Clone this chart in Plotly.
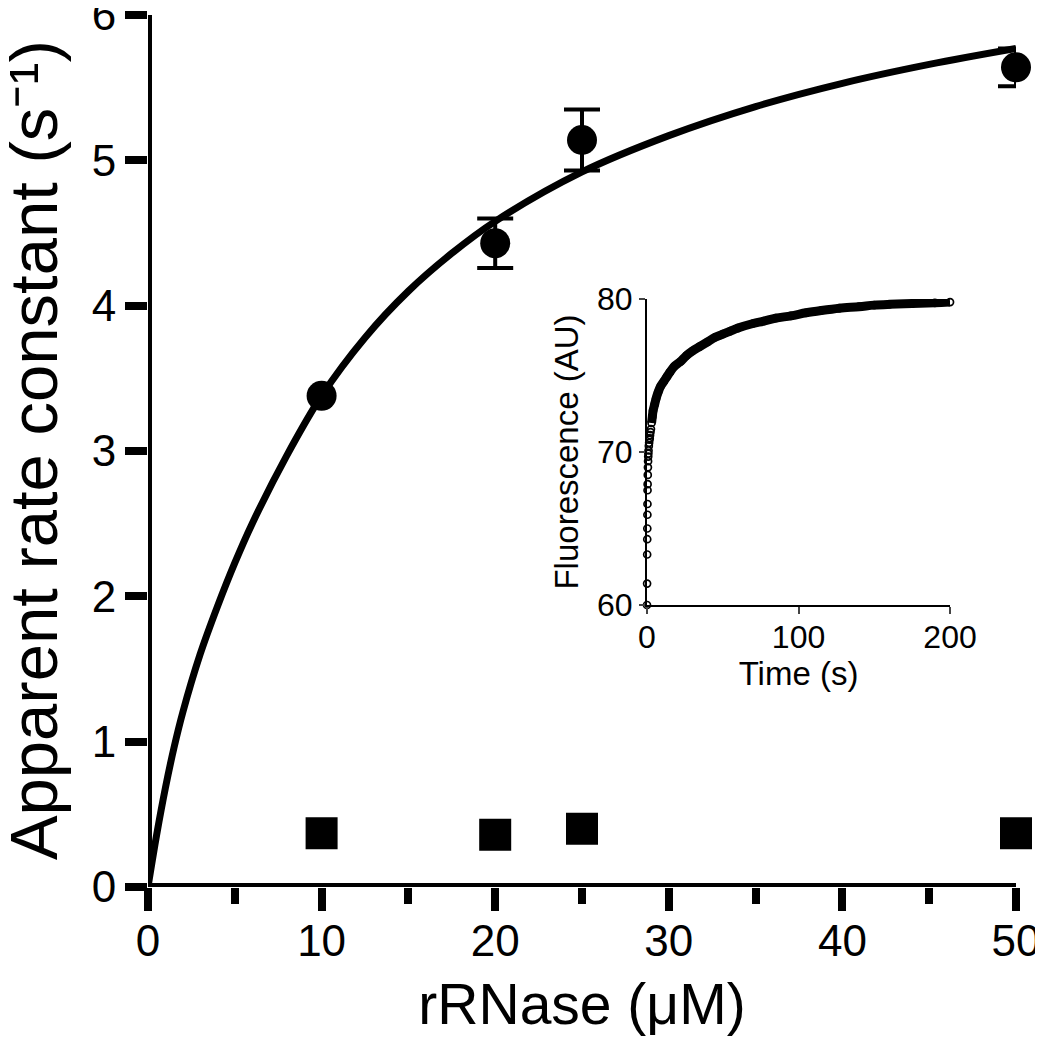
import plotly.graph_objects as go

# ---------------- data ----------------
conc = [10, 20, 25, 50]
k_wt = [3.38, 4.43, 5.14, 5.64]
k_wt_err = [0.0, 0.17, 0.21, 0.13]
k_mut = [0.37, 0.36, 0.40, 0.37]

fit_x = [0, 0.5, 1, 1.5, 2, 3, 4, 5, 6, 8, 10, 12.5, 15, 17.5, 20, 25, 30, 35, 40, 45, 50]
fit_y = [0, 0.36, 0.68, 0.96, 1.2, 1.6, 1.93, 2.23, 2.5, 2.97, 3.38, 3.78, 4.1, 4.36,
         4.58, 4.92, 5.17, 5.37, 5.53, 5.66, 5.77]

time_s = [0, 0.05, 0.1, 0.15, 0.2, 0.25, 0.3, 0.35, 0.4, 0.5, 0.6, 0.7, 0.8, 0.9, 1.0,
          1.2, 1.4, 1.6, 1.8, 2.0, 2.3, 2.6, 3.0, 3.5, 4.0, 5, 6, 7.3, 9, 11, 13, 15, 18,
          22, 26, 30, 35, 40, 45, 50, 55, 60, 70, 77, 85, 95, 105, 115, 127, 140, 150,
          160, 175, 190, 200]
fluor = [60.0, 61.4, 63.3, 64.3, 65.0, 65.9, 66.6, 67.5, 67.9, 68.5, 69.0, 69.4, 69.7,
         69.9, 70.1, 70.4, 70.6, 70.8, 70.9, 71.1, 71.3, 71.5, 71.9, 72.3, 72.7, 73.1,
         73.5, 73.9, 74.3, 74.6, 74.9, 75.2, 75.6, 75.9, 76.3, 76.6, 76.9, 77.2, 77.5,
         77.7, 77.9, 78.1, 78.4, 78.55, 78.75, 78.9, 79.1, 79.25, 79.4, 79.5, 79.6,
         79.65, 79.7, 79.75, 79.8]
band_start = 22  # index from which the dense band is drawn

x_ticks = [0, 10, 20, 30, 40, 50]
y_ticks = [0, 1, 2, 3, 4, 5, 6]
ins_x_ticks = [0, 100, 200]
ins_y_ticks = [60, 70, 80]

FONT = "Helvetica, Arial, Liberation Sans, sans-serif"

fig = go.Figure()

# fitted curve
fig.add_trace(go.Scatter(x=fit_x, y=fit_y, mode="lines",
                         line=dict(color="black", width=7, shape="spline"),
                         hoverinfo="skip", showlegend=False, cliponaxis=False))
# circles with error bars (points that have visible bars)
err_idx = [i for i, e in enumerate(k_wt_err) if e > 0]
fig.add_trace(go.Scatter(x=[conc[i] for i in err_idx], y=[k_wt[i] for i in err_idx],
                         mode="markers",
                         marker=dict(symbol="circle", size=30, color="black"),
                         error_y=dict(type="data", array=[k_wt_err[i] for i in err_idx],
                                      visible=True, color="black", thickness=4, width=18),
                         showlegend=False, cliponaxis=False))
# circles without visible bars
no_idx = [i for i, e in enumerate(k_wt_err) if e <= 0]
fig.add_trace(go.Scatter(x=[conc[i] for i in no_idx], y=[k_wt[i] for i in no_idx],
                         mode="markers",
                         marker=dict(symbol="circle", size=30, color="black"),
                         showlegend=False, cliponaxis=False))
# squares
fig.add_trace(go.Scatter(x=conc, y=k_mut, mode="markers",
                         marker=dict(symbol="square", size=32, color="black"),
                         showlegend=False, cliponaxis=False))

# inset: dense band + open circles
fig.add_trace(go.Scatter(x=time_s[band_start:], y=fluor[band_start:], mode="lines",
                         line=dict(color="black", width=9, shape="spline"),
                         xaxis="x2", yaxis="y2", showlegend=False, cliponaxis=False))
fig.add_trace(go.Scatter(x=time_s, y=fluor, mode="markers",
                         marker=dict(symbol="circle-open", size=7, color="black",
                                     line=dict(width=1.7, color="black")),
                         xaxis="x2", yaxis="y2", showlegend=False, cliponaxis=False))

# main axis lines as shapes centred on the data zero
fig.add_shape(type="line", xref="x", yref="y", x0=0, x1=50, y0=0, y1=0,
              line=dict(color="black", width=8), layer="below")
fig.add_shape(type="line", xref="x", yref="y", x0=0, x1=0, y0=0, y1=6,
              line=dict(color="black", width=8), layer="below")

# y-axis title as a rotated annotation (free of margin constraints)
fig.add_annotation(text="Apparent rate constant (s⁻¹)", textangle=-90,
                   xref="paper", yref="paper", x=-0.1325, y=0.501,
                   xanchor="center", yanchor="middle", showarrow=False,
                   font=dict(size=67, family=FONT, color="black"))

# (page body adds an 8 px margin, so margins are offset by 8 px)
fig.update_layout(
    width=1043, height=1050,
    margin=dict(l=140, r=35, t=7, b=171, autoexpand=False),
    paper_bgcolor="white", plot_bgcolor="white",
    font=dict(family=FONT, color="black"),
    xaxis=dict(range=[0, 50], tickvals=x_ticks, ticks="outside", ticklen=23,
               tickwidth=8, tickcolor="black", showline=False, showgrid=False,
               zeroline=False, tickfont=dict(size=44), automargin=False,
               ticklabelstandoff=-8, ticklabeloverflow="allow",
               minor=dict(dtick=5, tick0=0, ticks="outside", ticklen=16,
                          tickwidth=8, tickcolor="black", showgrid=False),
               title=dict(text="rRNase (μM)", font=dict(size=57), standoff=20)),
    yaxis=dict(range=[0, 6], tickvals=y_ticks, ticks="outside", ticklen=22,
               tickwidth=8, tickcolor="black", showline=False, showgrid=False,
               zeroline=False, tickfont=dict(size=44), automargin=False,
               ticklabeloverflow="allow"),
    xaxis2=dict(domain=[0.5749, 0.9240], anchor="y2", range=[0, 200],
                tickvals=ins_x_ticks, ticks="outside", ticklen=7, tickwidth=2,
                showline=True, linewidth=2, linecolor="black", showgrid=False,
                zeroline=False, tickfont=dict(size=32), automargin=False,
                ticklabelstandoff=-4,
                title=dict(text="Time (s)", font=dict(size=33), standoff=2)),
    yaxis2=dict(domain=[0.3234, 0.6743], anchor="x2", range=[60, 80],
                tickvals=ins_y_ticks, ticks="outside", ticklen=6, tickwidth=2,
                showline=True, linewidth=2, linecolor="black", showgrid=False,
                zeroline=False, tickfont=dict(size=32), automargin=False,
                title=dict(text="Fluorescence (AU)", font=dict(size=33), standoff=8)),
)

fig.write_html("out.html")
